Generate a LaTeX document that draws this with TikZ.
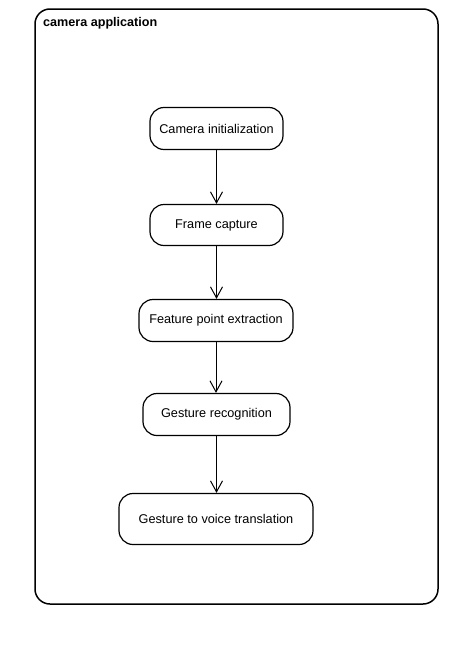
\documentclass[tikz,border=0pt]{standalone}
\usepackage{fontspec}
\setmainfont{Liberation Sans}
\usetikzlibrary{arrows.meta}
\begin{document}
\begin{tikzpicture}[x=1pt,y=-1pt,
  stepbox/.style={draw, line width=1.2pt, rounded corners=14pt, inner sep=0pt, font=\fontsize{12.7}{14}\selectfont, align=center},
  flow/.style={draw, line width=1pt, -{Straight Barb[length=11pt,width=12pt,line width=1pt]}}]
\useasboundingbox (0,0) rectangle (466,645);
\node[draw, line width=1.5pt, rounded corners=15pt, minimum width=403pt, minimum height=595pt, inner sep=0pt] (frame) at (236.5,306.5) {};
\node[anchor=west, font=\bfseries\fontsize{12.6}{14}\selectfont, inner sep=0pt] (title) at (43,23) {camera application};
\node[stepbox, minimum width=133pt, minimum height=42pt] (a) at (216.5,128.5) {Camera initialization};
\node[stepbox, minimum width=133pt, minimum height=41pt] (b) at (216.5,225) {Frame capture};
\node[stepbox, minimum width=154pt, minimum height=42pt] (c) at (216,320.5) {Feature point extraction};
\node[stepbox, minimum width=147pt, minimum height=42pt] (d) at (216.5,414.5) {Gesture recognition};
\node[stepbox, minimum width=194pt, minimum height=51pt] (e) at (216,519) {Gesture to voice translation};
\draw[flow] (a.south) -- (a.south |- b.north);
\draw[flow] (b.south) -- (b.south |- c.north);
\draw[flow] (c.south) -- (c.south |- d.north);
\draw[flow] (d.south) -- (d.south |- e.north);
\end{tikzpicture}
\end{document}
